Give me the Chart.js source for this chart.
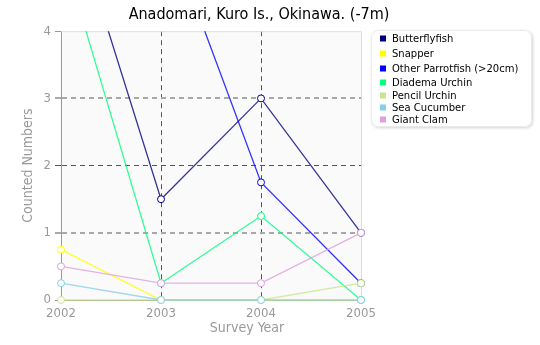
<!DOCTYPE html>
<html>
<head>
<meta charset="utf-8">
<script src="https://cdn.jsdelivr.net/npm/chart.js@4.4.1/dist/chart.umd.min.js"></script>
<style>
  html, body { margin: 0; padding: 0; background: #ffffff; }
  #wrap { width: 540px; height: 345px; }
</style>
</head>
<body>
<div id="wrap"><canvas id="chart" width="540" height="345"></canvas></div>
<script>
// Survey years and counted numbers per species (Anadomari, Kuro Is., -7m)
const years = ['2002', '2003', '2004', '2005'];
const butterflyfish   = [6.25, 1.5, 3, 1];
const snapper         = [0.75, 0, 0, 0];
const otherParrotfish = [6.5, 5.75, 1.75, 0.25];
const diademaUrchin   = [5.25, 0.25, 1.25, 0];
const pencilUrchin    = [0, 0, 0, 0.25];
const seaCucumber     = [0.25, 0, 0, 0];
const giantClam       = [0.5, 0.25, 0.25, 1];
const yTicks = [0, 1, 2, 3, 4];

const seriesNames  = ['Butterflyfish', 'Snapper', 'Other Parrotfish (>20cm)', 'Diadema Urchin',
                      'Pencil Urchin', 'Sea Cucumber', 'Giant Clam'];
const seriesValues = [butterflyfish, snapper, otherParrotfish, diademaUrchin,
                      pencilUrchin, seaCucumber, giantClam];
const seriesColors = ['#000080', '#ffff00', '#0000ff', '#00ff7f', '#c8e68c', '#87ceeb', '#dda0dd'];

const AXIS_FONT = "'DejaVu Sans Condensed', 'Liberation Sans', sans-serif";
const LEGEND_FONT = "'DejaVu Sans', sans-serif";
const AXIS_GREY = '#999999';
const X_TITLE = 'Survey Year';

function withAlpha(hex, a) {
  const n = parseInt(hex.slice(1), 16);
  return `rgba(${(n >> 16) & 255},${(n >> 8) & 255},${n & 255},${a})`;
}

// Plot background plus light top/right frame
const plotFrame = {
  id: 'plotFrame',
  beforeDraw(chart) {
    const { ctx, chartArea: a } = chart;
    ctx.save();
    ctx.fillStyle = '#fafafa';
    ctx.fillRect(a.left, a.top, a.right - a.left, a.bottom - a.top);
    ctx.restore();
  },
  beforeDatasetsDraw(chart) {
    const { ctx, chartArea: a } = chart;
    ctx.save();
    ctx.strokeStyle = '#dddddd';
    ctx.lineWidth = 1;
    ctx.beginPath();
    ctx.moveTo(a.left, a.top + 0.5);
    ctx.lineTo(a.right + 0.5, a.top + 0.5);
    ctx.lineTo(a.right + 0.5, a.bottom);
    ctx.stroke();
    ctx.restore();
  },
  afterDraw(chart) {
    // x axis title, sitting right of the plot centre
    const { ctx } = chart;
    const xs = chart.scales.x;
    ctx.save();
    ctx.font = '14px ' + AXIS_FONT;
    ctx.fillStyle = AXIS_GREY;
    ctx.textAlign = 'center';
    ctx.textBaseline = 'alphabetic';
    ctx.fillText(X_TITLE, xs.left + (xs.right - xs.left) * 0.62, xs.bottom - 13);
    ctx.restore();
  }
};

// Boxed legend to the right of the plot
const boxLegend = {
  id: 'boxLegend',
  afterDraw(chart) {
    const { ctx } = chart;
    const x = 371, y = 30, w = 161, h = 97, r = 7;
    ctx.save();
    ctx.shadowColor = 'rgba(0,0,0,0.18)';
    ctx.shadowBlur = 3;
    ctx.shadowOffsetX = 1;
    ctx.shadowOffsetY = 1;
    ctx.fillStyle = '#ffffff';
    ctx.beginPath();
    ctx.roundRect(x, y, w, h, r);
    ctx.fill();
    ctx.shadowColor = 'transparent';
    ctx.strokeStyle = '#ebebeb';
    ctx.lineWidth = 1;
    ctx.beginPath();
    ctx.roundRect(x + 0.5, y + 0.5, w - 1, h - 1, r);
    ctx.stroke();
    const rows = [38.5, 53.5, 68.5, 82.5, 95.5, 107.5, 119.5];
    ctx.font = '10px ' + LEGEND_FONT;
    ctx.textBaseline = 'middle';
    ctx.textAlign = 'left';
    chart.data.datasets.forEach((ds, i) => {
      ctx.fillStyle = ds.pointBorderColor;
      ctx.fillRect(380, rows[i] - 3, 6, 6);
      ctx.fillStyle = '#000000';
      ctx.fillText(ds.label, 392, rows[i] + 0.5);
    });
    ctx.restore();
  }
};

const datasets = seriesNames.map((name, i) => ({
  label: name,
  data: seriesValues[i],
  borderColor: withAlpha(seriesColors[i], 0.8),
  backgroundColor: seriesColors[i],
  borderWidth: 1.3,
  pointRadius: 3.5,
  pointBorderWidth: 1,
  pointBackgroundColor: '#ffffff',
  pointBorderColor: seriesColors[i],
  tension: 0,
  order: -i,
  clip: { left: 6, right: 6, top: 0, bottom: 6 }
}));

new Chart(document.getElementById('chart').getContext('2d'), {
  type: 'line',
  data: { labels: years, datasets },
  plugins: [plotFrame, boxLegend],
  options: {
    responsive: false,
    animation: false,
    events: [],
    layout: { padding: { left: 0, right: 22, top: 0, bottom: 0 } },
    plugins: {
      legend: { display: false },
      tooltip: { enabled: false },
      title: {
        display: true,
        text: 'Anadomari, Kuro Is., Okinawa. (-7m)',
        color: '#000000',
        font: { family: AXIS_FONT, size: 16, weight: 'normal' },
        padding: { top: 5, bottom: 7 }
      }
    },
    scales: {
      x: {
        type: 'category',
        offset: false,
        grid: {
          drawTicks: false,
          lineWidth: 1,
          color: ctx => (ctx.index === 1 || ctx.index === 2) ? '#555555' : 'rgba(0,0,0,0)'
        },
        border: { display: true, color: AXIS_GREY, width: 1, dash: [5, 4] },
        ticks: { color: AXIS_GREY, font: { family: AXIS_FONT, size: 13 }, padding: 6, maxRotation: 0, autoSkip: false },
        title: { display: false },
        afterFit(scale) { scale.height = 45; }
      },
      y: {
        min: yTicks[0],
        max: yTicks[yTicks.length - 1],
        afterBuildTicks(scale) { scale.ticks = yTicks.map(v => ({ value: v })); },
        grid: {
          tickLength: 6,
          lineWidth: ctx => (ctx.tick && (ctx.tick.value === 1 || ctx.tick.value === 3)) ? 2 : 1,
          color: ctx => {
            const v = ctx.tick ? ctx.tick.value : -1;
            if (v === 1 || v === 3) return '#a8a8a8';
            if (v === 2) return '#555555';
            return 'rgba(0,0,0,0)';
          },
          tickColor: ctx => {
            const v = ctx.tick ? ctx.tick.value : -1;
            if (v === 1 || v === 3) return '#a8a8a8';
            if (v === 2) return '#555555';
            return AXIS_GREY;
          }
        },
        border: { display: true, color: AXIS_GREY, width: 1, dash: [5, 4] },
        ticks: { color: AXIS_GREY, font: { family: AXIS_FONT, size: 13 }, padding: 4 },
        title: {
          display: true, text: 'Counted Numbers', color: AXIS_GREY,
          font: { family: AXIS_FONT, size: 14 }, padding: { top: 20, bottom: 0 }
        },
        afterFit(scale) { scale.width = 61; }
      },
      legendSpace: {
        position: 'right',
        display: true,
        grid: { display: false, drawTicks: false },
        border: { display: false },
        ticks: { display: false },
        afterFit(scale) { scale.width = 157; }
      }
    }
  }
});
</script>
</body>
</html>
